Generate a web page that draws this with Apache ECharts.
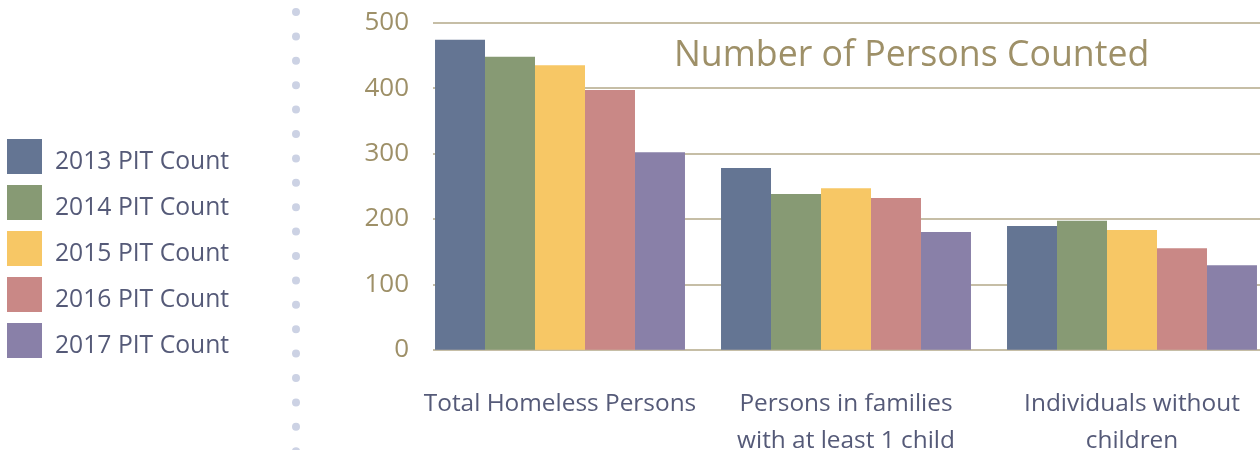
<!DOCTYPE html>
<html><head><meta charset="utf-8">
<script src="https://cdn.jsdelivr.net/npm/echarts@6/dist/echarts.min.js"></script>
<style>html,body{margin:0;padding:0;background:#fff}#c{width:1260px;height:450px}</style>
</head><body><div id="c"></div>
<script>
const categories = ['Total Homeless Persons', 'Persons in families\nwith at least 1 child', 'Individuals without\nchildren'];
const seriesNames = ['2013 PIT Count', '2014 PIT Count', '2015 PIT Count', '2016 PIT Count', '2017 PIT Count'];
const pit2013 = [474, 278, 189];
const pit2014 = [448, 238, 197];
const pit2015 = [435, 247, 183];
const pit2016 = [397, 232, 155];
const pit2017 = [302, 180, 129];
const yTicks = [0, 100, 200, 300, 400, 500];

const colors = ['#647593', '#879a74', '#f7c765', '#c98886', '#8980a8'];
const allData = [pit2013, pit2014, pit2015, pit2016, pit2017];
const FONT = 'Open Sans';

const chart = echarts.init(document.getElementById('c'));
chart.setOption({
  animation: false,
  color: colors,
  title: {
    text: 'Number of Persons Counted',
    left: 674, top: 38, padding: 0,
    textStyle: { fontFamily: FONT, fontSize: 35.7, fontWeight: 'normal', color: '#9e9068' }
  },
  legend: {
    orient: 'vertical', left: 7, top: 139, padding: 0,
    itemWidth: 35, itemHeight: 35, itemGap: 11,
    icon: 'rect',
    data: seriesNames,
    formatter: name => '{t|' + name + '}',
    textStyle: { fontFamily: FONT, fontSize: 24.7, color: '#555a78', padding: [0, 0, 0, 8],
      rich: { t: { fontFamily: FONT, fontSize: 24.7, color: '#555a78', padding: [10, 0, 0, 0] } } }
  },
  graphic: [{
    type: 'line', silent: true,
    shape: { x1: 296, y1: 12, x2: 296, y2: 460 },
    style: { stroke: '#ccd2e4', lineWidth: 8, lineCap: 'round', lineDash: [0, 24.4] }
  }],
  grid: [
    { left: 417, right: -15, top: 22.7, bottom: 100.3, containLabel: false, outerBoundsMode: 'none' },
    { left: 433, right: 0, top: 22.7, bottom: 100.3, containLabel: false, outerBoundsMode: 'none' }
  ],
  xAxis: [
    { type: 'category', gridIndex: 0, data: categories,
      axisLine: { show: false }, axisTick: { show: false },
      axisLabel: { interval: 0, margin: 36, fontFamily: FONT, fontSize: 24.4, lineHeight: 37, color: '#555a78' } },
    { type: 'value', gridIndex: 1, show: false, min: 0, max: 1 }
  ],
  yAxis: [
    { type: 'value', gridIndex: 0, min: 0, max: 500, interval: 100, show: false },
    { type: 'value', gridIndex: 1, min: yTicks[0], max: yTicks[yTicks.length - 1], interval: 100,
      axisLine: { show: false }, axisTick: { show: false },
      splitLine: { show: true, lineStyle: { color: '#b3a988', width: 1.5 } },
      axisLabel: { margin: 24, fontFamily: FONT, fontSize: 26, color: '#9e9068' } }
  ],
  series: seriesNames.map((n, i) => ({
    name: n, type: 'bar', xAxisIndex: 0, yAxisIndex: 0,
    data: allData[i], barGap: '0%', barCategoryGap: '12.6%',
    itemStyle: { color: colors[i] }
  })).concat([{ type: 'line', xAxisIndex: 1, yAxisIndex: 1, data: [], silent: true }])
});
</script></body></html>
